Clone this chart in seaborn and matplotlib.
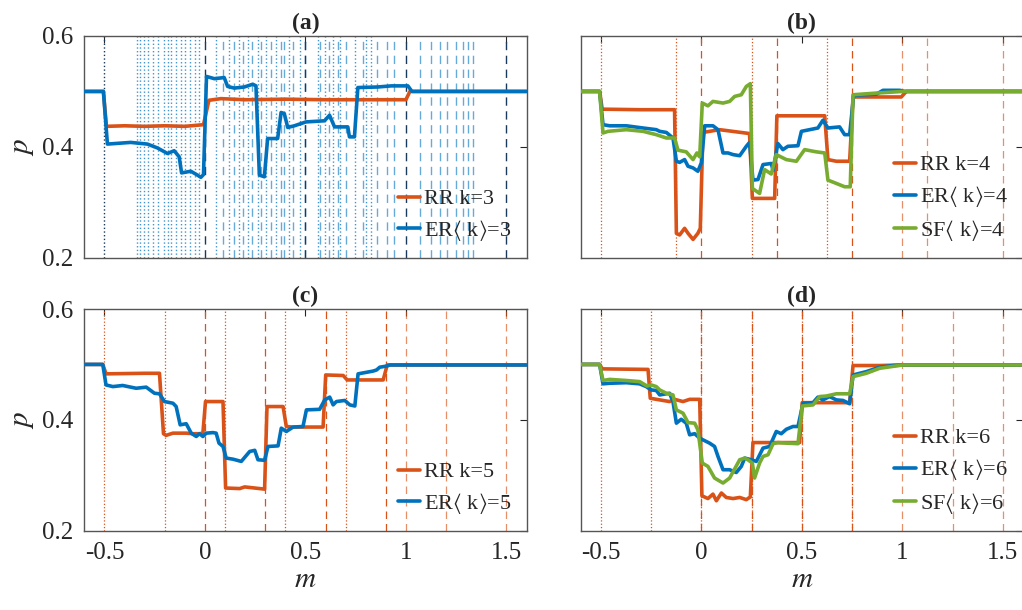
import numpy as np
import pandas as pd
import matplotlib
matplotlib.use("Agg")
import matplotlib.pyplot as plt
import seaborn as sns

# ---------------- data ----------------
# panel (a)
a_rr_m = [-0.60, -0.505, -0.49, -0.40, -0.30, -0.20, -0.10, -0.007, 0.02, 0.08, 0.20, 0.40, 0.60, 0.80, 1.00, 1.02, 1.60]
a_rr_p = [0.500, 0.500, 0.437, 0.438, 0.437, 0.438, 0.437, 0.440, 0.484, 0.487, 0.485, 0.486, 0.485, 0.485, 0.485, 0.500, 0.500]
a_er_m = [-0.60, -0.505, -0.485, -0.369, -0.286, -0.236, -0.186, -0.153, -0.128, -0.116, -0.070, -0.037, -0.020,
          -0.007, 0.008, 0.047, 0.096, 0.113, 0.146, 0.196, 0.238, 0.254, 0.271, 0.296, 0.312, 0.362, 0.379, 0.395,
          0.412, 0.445, 0.503, 0.595, 0.620, 0.645, 0.711, 0.719, 0.744, 0.761, 0.860, 0.927, 1.010, 1.030, 1.60]
a_er_p = [0.500, 0.500, 0.405, 0.408, 0.405, 0.398, 0.388, 0.393, 0.382, 0.353, 0.356, 0.349, 0.345,
          0.350, 0.527, 0.523, 0.525, 0.509, 0.506, 0.508, 0.513, 0.510, 0.349, 0.346, 0.415, 0.415, 0.462, 0.460,
          0.435, 0.438, 0.445, 0.447, 0.457, 0.436, 0.436, 0.418, 0.418, 0.507, 0.508, 0.510, 0.510, 0.500, 0.500]
a_black_dotted = [-0.5]
a_black_dashed = [0.0, 0.5, 1.0, 1.5]
a_blue_dotted = [-0.339, -0.321, -0.301, -0.284, -0.256, -0.231, -0.205, -0.185, -0.168, -0.143, -0.118, -0.097,
                 -0.072, -0.048, -0.027, 0.056, 0.122, 0.169, 0.214, 0.264, 0.305, 0.355, 0.418, 0.471,
                 0.562, 0.596, 0.637, 0.674, 0.745, 0.803, 0.828]
a_blue_dashed = [0.089, 0.147, 0.189, 0.235, 0.280, 0.330, 0.380, 0.396, 0.438, 0.496, 0.574, 0.617, 0.662,
                 0.704, 0.786, 0.856, 0.906, 0.939, 1.072, 1.127, 1.168, 1.202, 1.251, 1.284, 1.309, 1.334]

# panel (b)
b_rr_m = [-0.60, -0.506, -0.493, -0.30, -0.133, -0.124, -0.108, -0.083, -0.066, -0.041, -0.017, -0.005, 0.008,
          0.091, 0.240, 0.254, 0.365, 0.376, 0.614, 0.630, 0.672, 0.738, 0.755, 0.995, 1.020, 1.60]
b_rr_p = [0.500, 0.500, 0.468, 0.467, 0.467, 0.244, 0.241, 0.253, 0.244, 0.233, 0.244, 0.253, 0.426,
          0.431, 0.424, 0.307, 0.307, 0.456, 0.456, 0.377, 0.374, 0.374, 0.490, 0.490, 0.500, 0.500]
b_er_m = [-0.60, -0.506, -0.489, -0.456, -0.373, -0.290, -0.224, -0.207, -0.174, -0.141, -0.124, -0.108, -0.083,
          -0.066, -0.041, -0.017, 0.000, 0.017, 0.058, 0.083, 0.108, 0.133, 0.158, 0.191, 0.224, 0.240, 0.257,
          0.282, 0.307, 0.348, 0.357, 0.381, 0.406, 0.431, 0.481, 0.498, 0.580, 0.605, 0.630, 0.688, 0.713, 0.738,
          0.758, 0.871, 0.904, 0.987, 1.012, 1.60]
b_er_p = [0.500, 0.500, 0.440, 0.438, 0.438, 0.434, 0.431, 0.428, 0.426, 0.416, 0.374, 0.372, 0.377,
          0.365, 0.362, 0.356, 0.371, 0.438, 0.438, 0.431, 0.389, 0.389, 0.386, 0.384, 0.401, 0.408, 0.340,
          0.341, 0.368, 0.370, 0.358, 0.406, 0.395, 0.401, 0.402, 0.428, 0.434, 0.448, 0.434, 0.436, 0.422, 0.422,
          0.493, 0.495, 0.502, 0.502, 0.500, 0.500]
b_sf_m = [-0.60, -0.506, -0.489, -0.464, -0.373, -0.290, -0.224, -0.174, -0.133, -0.116, -0.075, -0.041, -0.022,
          -0.008, 0.005, 0.033, 0.058, 0.108, 0.141, 0.166, 0.199, 0.224, 0.244, 0.254, 0.290, 0.315, 0.348,
          0.373, 0.423, 0.473, 0.514, 0.572, 0.614, 0.630, 0.672, 0.713, 0.741, 0.755, 0.871, 1.003, 1.60]
b_sf_p = [0.500, 0.500, 0.425, 0.428, 0.431, 0.428, 0.422, 0.416, 0.416, 0.394, 0.391, 0.377, 0.389,
          0.382, 0.479, 0.474, 0.482, 0.479, 0.482, 0.491, 0.494, 0.509, 0.514, 0.325, 0.316, 0.359, 0.351,
          0.386, 0.377, 0.374, 0.395, 0.391, 0.389, 0.340, 0.334, 0.328, 0.328, 0.494, 0.497, 0.500, 0.500]
b_dotted = [-0.5, -0.125, 0.25, 0.625]
b_dashed = [0.0, 0.375, 0.75]
b_dashed_light = [1.0, 1.125, 1.5]

# panel (c)
c_rr_m = [-0.60, -0.508, -0.492, -0.30, -0.226, -0.206, -0.193, -0.159, -0.093, -0.060, -0.027, -0.010, 0.003,
          0.090, 0.103, 0.173, 0.198, 0.297, 0.309, 0.389, 0.405, 0.439, 0.588, 0.601, 0.688, 0.708, 0.887,
          0.907, 1.60]
c_rr_p = [0.500, 0.500, 0.483, 0.484, 0.484, 0.375, 0.372, 0.376, 0.376, 0.375, 0.375, 0.376, 0.433,
          0.433, 0.277, 0.276, 0.279, 0.275, 0.424, 0.424, 0.388, 0.387, 0.387, 0.481, 0.480, 0.472, 0.472,
          0.499, 0.499]
c_er_m = [-0.60, -0.508, -0.492, -0.458, -0.409, -0.342, -0.292, -0.251, -0.226, -0.201, -0.159, -0.143, -0.123,
          -0.093, -0.068, -0.043, -0.027, -0.010, 0.007, 0.040, 0.056, 0.070, 0.090, 0.106, 0.140, 0.181, 0.223,
          0.248, 0.264, 0.297, 0.314, 0.364, 0.380, 0.405, 0.439, 0.488, 0.505, 0.571, 0.596, 0.621, 0.638, 0.654,
          0.696, 0.721, 0.746, 0.762, 0.837, 0.854, 0.870, 0.904, 0.920, 1.60]
c_er_p = [0.500, 0.500, 0.463, 0.460, 0.462, 0.457, 0.459, 0.448, 0.447, 0.433, 0.430, 0.424, 0.391,
          0.393, 0.376, 0.370, 0.375, 0.370, 0.376, 0.377, 0.376, 0.358, 0.352, 0.331, 0.329, 0.325, 0.343,
          0.345, 0.328, 0.327, 0.352, 0.353, 0.385, 0.379, 0.387, 0.388, 0.418, 0.419, 0.436, 0.441, 0.427, 0.433,
          0.435, 0.427, 0.425, 0.483, 0.488, 0.490, 0.495, 0.497, 0.499, 0.499]
c_dotted = [-0.5, -0.2, 0.1, 0.4, 0.7]
c_dashed = [0.0, 0.3, 0.6, 0.9]
c_dashed_light = [1.0, 1.2, 1.5]

# panel (d)
d_rr_m = [-0.60, -0.506, -0.493, -0.265, -0.254, -0.207, -0.158, -0.133, -0.091, -0.058, -0.008, 0.003, 0.033,
          0.058, 0.075, 0.100, 0.124, 0.158, 0.191, 0.224, 0.244, 0.257, 0.489, 0.502, 0.738, 0.755, 0.887, 1.003, 1.60]
d_rr_p = [0.500, 0.500, 0.492, 0.491, 0.439, 0.436, 0.433, 0.437, 0.433, 0.437, 0.437, 0.263, 0.258,
          0.266, 0.254, 0.268, 0.260, 0.258, 0.260, 0.256, 0.261, 0.359, 0.359, 0.431, 0.431, 0.498, 0.498, 0.499, 0.499]
d_er_m = [-0.60, -0.506, -0.489, -0.456, -0.373, -0.307, -0.274, -0.249, -0.224, -0.207, -0.158, -0.141, -0.124,
          -0.100, -0.075, -0.058, -0.033, -0.008, 0.008, 0.041, 0.066, 0.083, 0.108, 0.141, 0.174, 0.199, 0.216,
          0.249, 0.274, 0.307, 0.340, 0.373, 0.398, 0.423, 0.456, 0.481, 0.506, 0.556, 0.580, 0.605, 0.638, 0.672,
          0.705, 0.738, 0.755, 0.821, 0.887, 0.954, 1.003, 1.60]
d_er_p = [0.500, 0.500, 0.465, 0.466, 0.467, 0.465, 0.460, 0.454, 0.453, 0.445, 0.448, 0.433, 0.394,
          0.401, 0.394, 0.373, 0.375, 0.367, 0.364, 0.358, 0.352, 0.334, 0.310, 0.310, 0.305, 0.316, 0.331,
          0.328, 0.325, 0.349, 0.352, 0.379, 0.375, 0.383, 0.388, 0.388, 0.430, 0.431, 0.441, 0.436, 0.442, 0.436,
          0.435, 0.429, 0.481, 0.487, 0.495, 0.498, 0.499, 0.499]
d_sf_m = [-0.60, -0.506, -0.489, -0.456, -0.373, -0.307, -0.270, -0.249, -0.224, -0.207, -0.174, -0.141, -0.124,
          -0.091, -0.066, -0.033, -0.017, 0.005, 0.033, 0.066, 0.108, 0.141, 0.191, 0.216, 0.232, 0.254, 0.265,
          0.290, 0.307, 0.332, 0.357, 0.381, 0.423, 0.481, 0.502, 0.556, 0.589, 0.622, 0.672, 0.738, 0.755, 0.821,
          0.887, 1.003, 1.60]
d_sf_p = [0.500, 0.500, 0.471, 0.473, 0.471, 0.469, 0.461, 0.463, 0.460, 0.454, 0.448, 0.445, 0.418,
          0.412, 0.395, 0.394, 0.382, 0.322, 0.316, 0.295, 0.286, 0.295, 0.328, 0.331, 0.328, 0.322, 0.295,
          0.322, 0.334, 0.337, 0.357, 0.359, 0.358, 0.357, 0.425, 0.427, 0.442, 0.443, 0.447, 0.447, 0.478, 0.484,
          0.493, 0.499, 0.499]
d_dotted = [-0.5, -0.25, 0.0, 0.25, 0.5, 0.75]
d_dashed = [0.0, 0.25, 0.5, 0.75]
d_dashed_light = [1.0, 1.25, 1.5]

titles = ["(a)", "(b)", "(c)", "(d)"]
xticks = [-0.5, 0, 0.5, 1, 1.5]
xtick_labels = ["-0.5", "0", "0.5", "1", "1.5"]
yticks = [0.2, 0.4, 0.6]
ytick_labels = ["0.2", "0.4", "0.6"]

# ---------------- style ----------------
ORANGE = "#D95319"
BLUE = "#0072BD"
GREEN = "#77AC30"

sns.set_theme(style="white")
plt.rcParams["font.family"] = ["Liberation Serif", "STIXGeneral", "DejaVu Serif"]
plt.rcParams["mathtext.fontset"] = "stix"
plt.rcParams["axes.unicode_minus"] = False

fig = plt.figure(figsize=(10.22, 6.10), dpi=100)
W, H = 1022.0, 610.0
aw = 442.2 / W
ah = 221.7 / H
pos = {
    "a": [84.3 / W, 1 - 257.7 / H, aw, ah],
    "b": [580.7 / W, 1 - 257.7 / H, aw, ah],
    "c": [84.3 / W, 1 - 530.7 / H, aw, ah],
    "d": [580.7 / W, 1 - 530.7 / H, aw, ah],
}
axes = {k: fig.add_axes(v) for k, v in pos.items()}

DASH = (0, (6, 4))
LW = 2.6


def vlines(ax, xs, color, ls, alpha=1.0, lw=0.9):
    for x in xs:
        ax.axvline(x, color=color, linestyle=ls, lw=lw, alpha=alpha, zorder=1)


def series(ax, m, p, color, label):
    df = pd.DataFrame({"m": m, "p": p})
    sns.lineplot(data=df, x="m", y="p", ax=ax, color=color, lw=LW, label=label,
                 estimator=None, sort=False, zorder=3)


# (a)
ax = axes["a"]
vlines(ax, a_blue_dotted, BLUE, ":", alpha=0.75, lw=1.0)
vlines(ax, a_blue_dashed, BLUE, DASH, alpha=0.6, lw=1.0)
vlines(ax, a_black_dotted, "#1a3a5c", ":", lw=1.0)
vlines(ax, a_black_dashed, "#1a3a5c", DASH, lw=1.0)
series(ax, a_rr_m, a_rr_p, ORANGE, "RR k=3")
series(ax, a_er_m, a_er_p, BLUE, r"ER$\langle$ k$\rangle$=3")

# (b)
ax = axes["b"]
vlines(ax, b_dotted, ORANGE, ":")
vlines(ax, b_dashed, ORANGE, DASH)
vlines(ax, b_dashed_light, ORANGE, DASH, alpha=0.65)
series(ax, b_rr_m, b_rr_p, ORANGE, "RR k=4")
series(ax, b_er_m, b_er_p, BLUE, r"ER$\langle$ k$\rangle$=4")
series(ax, b_sf_m, b_sf_p, GREEN, r"SF$\langle$ k$\rangle$=4")

# (c)
ax = axes["c"]
vlines(ax, c_dotted, ORANGE, ":")
vlines(ax, c_dashed, ORANGE, DASH)
vlines(ax, c_dashed_light, ORANGE, DASH, alpha=0.65)
series(ax, c_rr_m, c_rr_p, ORANGE, "RR k=5")
series(ax, c_er_m, c_er_p, BLUE, r"ER$\langle$ k$\rangle$=5")

# (d)
ax = axes["d"]
vlines(ax, d_dotted, ORANGE, ":")
vlines(ax, d_dashed, ORANGE, DASH)
vlines(ax, d_dashed_light, ORANGE, DASH, alpha=0.65)
series(ax, d_rr_m, d_rr_p, ORANGE, "RR k=6")
series(ax, d_er_m, d_er_p, BLUE, r"ER$\langle$ k$\rangle$=6")
series(ax, d_sf_m, d_sf_p, GREEN, r"SF$\langle$ k$\rangle$=6")

for i, (key, ax) in enumerate(axes.items()):
    ax.set_xlim(-0.6, 1.6)
    ax.set_ylim(0.2, 0.6)
    ax.set_xticks(xticks)
    ax.set_yticks(yticks)
    if key in ("c", "d"):
        ax.set_xticklabels(xtick_labels)
        ax.set_xlabel("$m$", fontsize=21, labelpad=2)
    else:
        ax.set_xticklabels([])
        ax.set_xlabel("")
    if key in ("a", "c"):
        ax.set_yticklabels(ytick_labels)
        ax.set_ylabel("$p$", fontsize=21, labelpad=4)
    else:
        ax.set_yticklabels([])
        ax.set_ylabel("")
    ax.tick_params(direction="in", length=5, width=0.8, top=True, right=True,
                   labelsize=18, colors="#262626", pad=8)
    for s in ax.spines.values():
        s.set_color("#555555")
        s.set_linewidth(1.0)
    ax.set_title(titles[i], fontsize=17, fontweight="bold", pad=5)
    ax.grid(False)
    ax.legend(loc="lower right", frameon=False, fontsize=16, handlelength=1.0,
              handletextpad=0.2, labelspacing=0.4, borderaxespad=0.25)

fig.savefig("out.png", dpi=100)
